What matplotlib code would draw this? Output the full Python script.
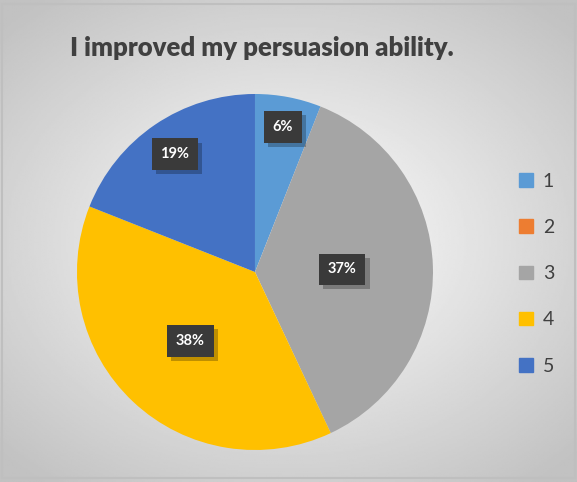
import numpy as np
import matplotlib.pyplot as plt
import matplotlib.patheffects as pe

# datos del gráfico
categorias = ['1', '2', '3', '4', '5']
valores = [6, 0, 37, 38, 19]
colores = ['#5B9BD5', '#ED7D31', '#A5A5A5', '#FFC000', '#4472C4']
titulo = 'I improved my persuasion ability.'

fig = plt.figure(figsize=(5.77, 4.82), dpi=100)

# fondo con degradado radial
bg = fig.add_axes([0, 0, 1, 1])
yy, xx = np.mgrid[-1:1:300j, -1:1:300j]
r = np.sqrt((xx * 1.0) ** 2 + (yy * 1.1) ** 2)
bg.imshow(1 - 0.24 * np.clip(r, 0, 1.4) / 1.4, cmap='gray', vmin=0, vmax=1,
          extent=[0, 1, 0, 1], aspect='auto')
bg.set_xlim(0, 1)
bg.set_ylim(0, 1)
bg.plot([0.004, 0.996, 0.996, 0.004, 0.004], [0.992, 0.992, 0.008, 0.008, 0.992],
        color='#BFBFBF', lw=1.5)
bg.axis('off')

fig.text(0.453, 0.9, titulo, ha='center', va='center', fontsize=18.5,
         fontweight='heavy', color='#404040', family='Lato')

ax = fig.add_axes([0.1334, 0.0664, 0.617, 0.7386])
wedges, _ = ax.pie(valores, colors=colores, startangle=90, counterclock=False,
                   radius=1.0, wedgeprops=dict(linewidth=0))
ax.set_xlim(-1, 1)
ax.set_ylim(-1, 1)
ax.set_aspect('equal')

# etiquetas de porcentaje
dist = [0.83, 0.5, 0.49, 0.53, 0.80]
total = sum(valores)
for w, v, d in zip(wedges, valores, dist):
    if v == 0:
        continue
    ang = np.deg2rad((w.theta1 + w.theta2) / 2)
    x, y = d * np.cos(ang), d * np.sin(ang)
    t = ax.text(x, y, f'{round(100 * v / total)}%', ha='center', va='center',
                fontsize=10.5, fontweight='bold', color='white', family='Lato',
                bbox=dict(boxstyle='square,pad=0.6', fc='#3A3A3A', ec='none'))
    t.get_bbox_patch().set_path_effects(
        [pe.withSimplePatchShadow(offset=(3, -3), shadow_rgbFace='black', alpha=0.25)])

handles = [plt.Rectangle((0, 0), 1, 1, color=c) for c in colores]
fig.legend(handles, categorias, loc='center left', bbox_to_anchor=(0.87, 0.432),
           frameon=False, labelspacing=1.5, handlelength=0.7,
           handleheight=0.7, handletextpad=0.5, labelcolor='#404040',
           prop=dict(family='Lato', size=14))

fig.savefig('out.png', dpi=100)
